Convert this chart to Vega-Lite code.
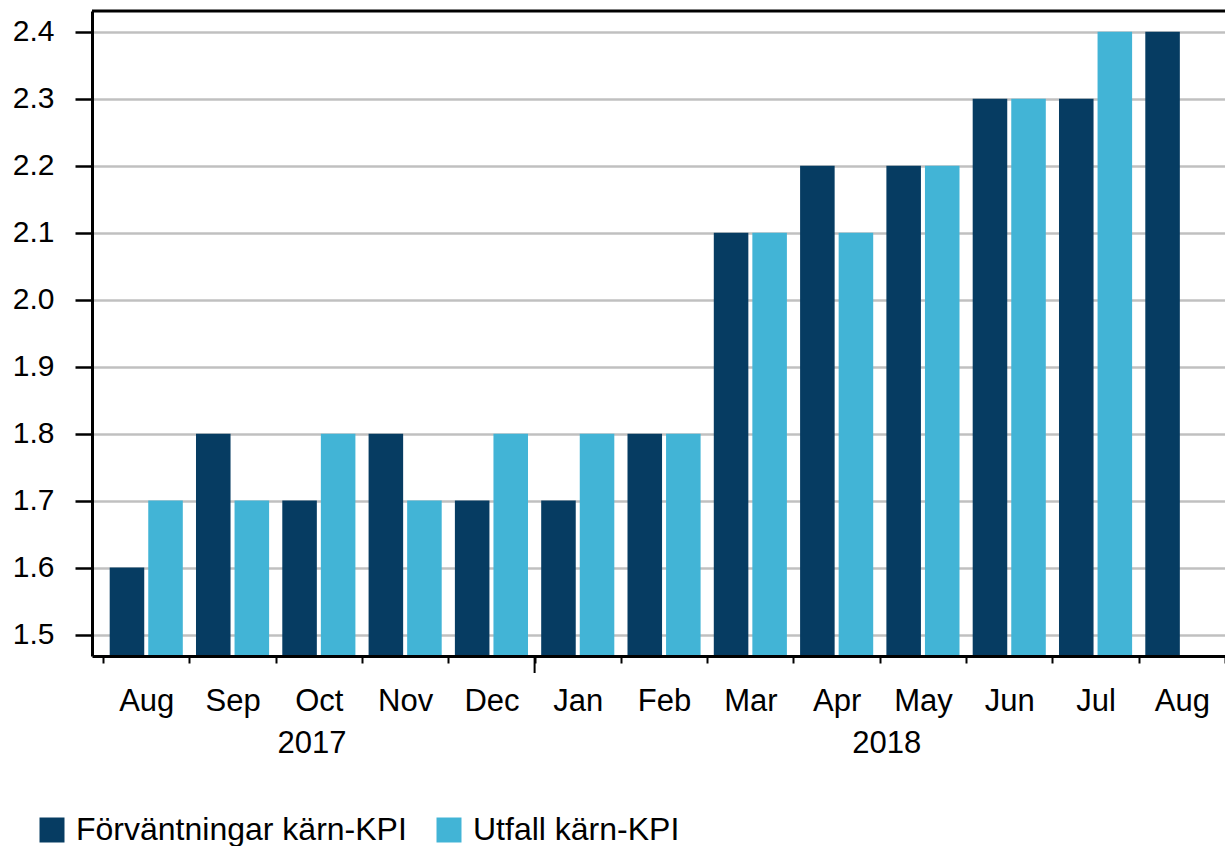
{
  "$schema": "https://vega.github.io/schema/vega-lite/v6.json",
  "width": 1133,
  "height": 645,
  "autosize": {"type": "none"},
  "padding": {"left": 92, "top": 11, "right": 0, "bottom": 190},
  "background": "white",
  "config": {
    "view": {"stroke": null},
    "font": "Liberation Sans",
    "axisY": {"ticks": true, "tickSize": 17, "tickWidth": 2.5, "tickColor": "#000000", "tickOpacity": 1, "tickOffset": 0}
  },
  "datasets": {
    "bars": [
      {"m": "Aug17", "series": "Förväntningar kärn-KPI", "v": 1.6},
      {"m": "Aug17", "series": "Utfall kärn-KPI", "v": 1.7},
      {"m": "Sep17", "series": "Förväntningar kärn-KPI", "v": 1.8},
      {"m": "Sep17", "series": "Utfall kärn-KPI", "v": 1.7},
      {"m": "Oct17", "series": "Förväntningar kärn-KPI", "v": 1.7},
      {"m": "Oct17", "series": "Utfall kärn-KPI", "v": 1.8},
      {"m": "Nov17", "series": "Förväntningar kärn-KPI", "v": 1.8},
      {"m": "Nov17", "series": "Utfall kärn-KPI", "v": 1.7},
      {"m": "Dec17", "series": "Förväntningar kärn-KPI", "v": 1.7},
      {"m": "Dec17", "series": "Utfall kärn-KPI", "v": 1.8},
      {"m": "Jan18", "series": "Förväntningar kärn-KPI", "v": 1.7},
      {"m": "Jan18", "series": "Utfall kärn-KPI", "v": 1.8},
      {"m": "Feb18", "series": "Förväntningar kärn-KPI", "v": 1.8},
      {"m": "Feb18", "series": "Utfall kärn-KPI", "v": 1.8},
      {"m": "Mar18", "series": "Förväntningar kärn-KPI", "v": 2.1},
      {"m": "Mar18", "series": "Utfall kärn-KPI", "v": 2.1},
      {"m": "Apr18", "series": "Förväntningar kärn-KPI", "v": 2.2},
      {"m": "Apr18", "series": "Utfall kärn-KPI", "v": 2.1},
      {"m": "May18", "series": "Förväntningar kärn-KPI", "v": 2.2},
      {"m": "May18", "series": "Utfall kärn-KPI", "v": 2.2},
      {"m": "Jun18", "series": "Förväntningar kärn-KPI", "v": 2.3},
      {"m": "Jun18", "series": "Utfall kärn-KPI", "v": 2.3},
      {"m": "Jul18", "series": "Förväntningar kärn-KPI", "v": 2.3},
      {"m": "Jul18", "series": "Utfall kärn-KPI", "v": 2.4},
      {"m": "Aug18", "series": "Förväntningar kärn-KPI", "v": 2.4}
    ],
    "years": [
      {"m": "Oct17", "year": "2017"},
      {"m": "Apr18", "year": "2018"}
    ],
    "yearstart": [{"m": "Jan18"}]
  },
  "layer": [
    {
      "data": {"name": "bars"},
      "mark": {"type": "bar", "clip": true},
      "encoding": {
        "x": {
          "field": "m", "type": "nominal", "title": null,
          "scale": {"domain": ["Aug17","Sep17","Oct17","Nov17","Dec17","Jan18","Feb18","Mar18","Apr18","May18","Jun18","Jul18","Aug18"], "paddingInner": 0, "paddingOuter": 0.0643, "align": 1},
          "axis": {"labelExpr": "isString(datum.value) ? slice(datum.value, 0, 3) : ''", "tickBand": "extent", "tickSize": 7, "tickWidth": 2, "tickColor": "black", "domainColor": "black", "domainWidth": 3, "labelFontSize": 31, "labelColor": "black", "labelPadding": 23, "labelAngle": 0, "zindex": 1, "grid": false}
        },
        "xOffset": {
          "field": "series", "type": "nominal",
          "scale": {"domain": ["Förväntningar kärn-KPI", "Utfall kärn-KPI"], "paddingInner": 0.104, "paddingOuter": 0.171}
        },
        "y": {
          "field": "v", "type": "quantitative", "title": null,
          "scale": {"domain": [1.468, 2.431], "zero": false, "nice": false},
          "axis": {"values": [1.5,1.6,1.7,1.8,1.9,2.0,2.1,2.2,2.3,2.4], "format": ".1f", "ticks": true, "tickSize": 17, "tickWidth": 2.5, "tickColor": "#000000", "domainColor": "black", "domainWidth": 3, "labelFontSize": 30, "labelColor": "black", "labelPadding": 21, "grid": true, "gridColor": "#c0c0c0", "gridWidth": 2.5}
        },
        "color": {
          "field": "series", "type": "nominal",
          "scale": {"domain": ["Förväntningar kärn-KPI", "Utfall kärn-KPI"], "range": ["#063c62", "#42b4d6"]},
          "legend": {"title": null, "orient": "none", "legendX": -56, "legendY": 803, "direction": "horizontal", "symbolType": "square", "symbolSize": 625, "symbolStrokeWidth": 0, "symbolOpacity": 1, "labelFontSize": 32, "labelColor": "black", "labelOffset": 8, "labelLimit": 600, "columnPadding": 26}
        }
      }
    },
    {
      "data": {"name": "years"},
      "transform": [{"filter": "datum.year == '2017'"}],
      "mark": {"type": "text", "fontSize": 31, "baseline": "middle", "align": "center", "color": "black"},
      "encoding": {
        "x": {"field": "m", "type": "nominal", "bandPosition": 0.42, "title": null},
        "y": {"datum": 1.337},
        "text": {"field": "year"}
      }
    },
    {
      "data": {"name": "years"},
      "transform": [{"filter": "datum.year == '2018'"}],
      "mark": {"type": "text", "fontSize": 31, "baseline": "middle", "align": "center", "color": "black"},
      "encoding": {
        "x": {"field": "m", "type": "nominal", "bandPosition": 1.08, "title": null},
        "y": {"datum": 1.337},
        "text": {"field": "year"}
      }
    },
    {
      "data": {"name": "yearstart"},
      "mark": {"type": "rule", "color": "black", "strokeWidth": 2},
      "encoding": {
        "x": {"field": "m", "type": "nominal", "bandPosition": 0, "title": null},
        "y": {"datum": 1.468},
        "y2": {"datum": 1.4426}
      }
    },
    {
      "data": {"values": [{"edge": "top"}]},
      "mark": {"type": "rule", "color": "black", "strokeWidth": 3},
      "encoding": {
        "y": {"datum": 2.431}
      }
    }
  ]
}
